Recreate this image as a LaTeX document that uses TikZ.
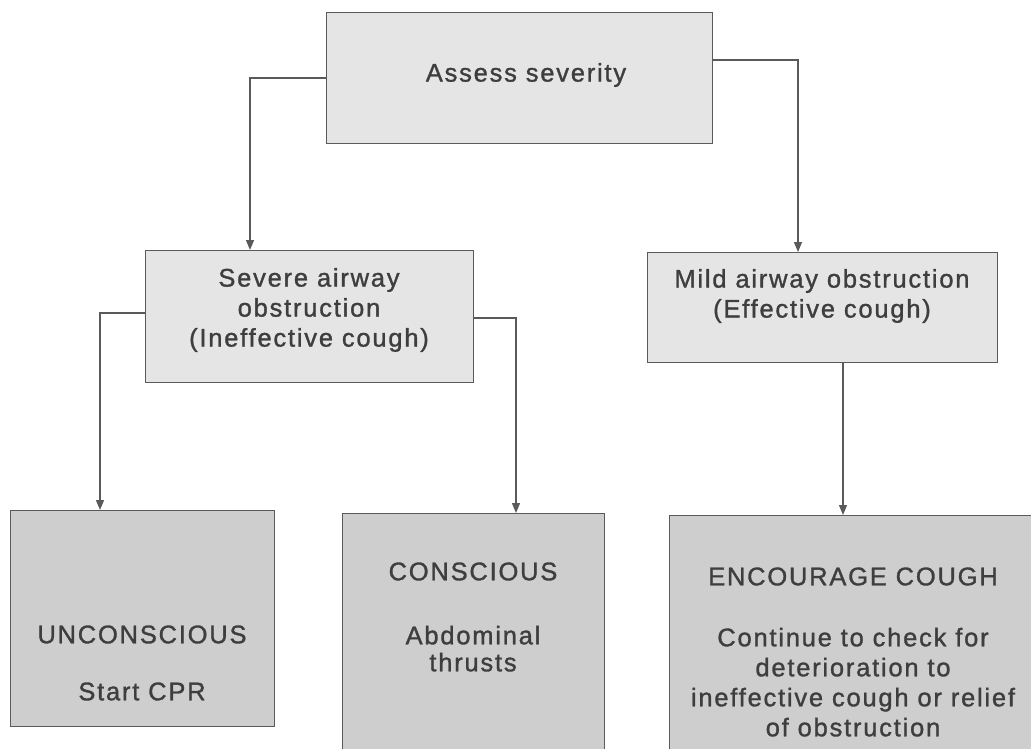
\documentclass[tikz,border=0pt]{standalone}
\usepackage{fontspec}
\setmainfont{Liberation Sans}[LetterSpace=7,FakeBold=1.2]
\usetikzlibrary{arrows.meta,positioning,calc}
\definecolor{boxlight}{RGB}{229,229,229}
\definecolor{boxdark}{RGB}{206,206,206}
\definecolor{edgegray}{RGB}{90,90,90}
\definecolor{txtgray}{RGB}{62,62,62}

\begin{document}
\begin{tikzpicture}[
  x=1pt,y=-1pt,
  toplevel/.style={draw=edgegray,fill=boxlight,line width=1.3pt,inner sep=0pt,anchor=north west},
  botlevel/.style={toplevel,fill=boxdark},
  boxtext/.style={text=txtgray,align=center,inner sep=0pt,font=\fontsize{25.5}{30}\selectfont},
  link/.style={draw=edgegray,line width=1.3pt,-{Triangle[length=10pt,width=8pt]}},
]
  \useasboundingbox (0,0) rectangle (1031,749);
  \clip (0,0) rectangle (1031,749);
  % Boxes
  \node[toplevel,minimum width=386pt,minimum height=131pt] (assess) at (326,12) {};
  \node[toplevel,minimum width=328pt,minimum height=132pt] (severe) at (145,250) {};
  \node[toplevel,minimum width=350pt,minimum height=110pt] (mild) at (647,252) {};
  \node[botlevel,minimum width=264pt,minimum height=216pt] (unc) at (10,510) {};
  \node[botlevel,minimum width=262pt,minimum height=245pt] (cons) at (342,513) {};
  \node[botlevel,minimum width=380pt,minimum height=280pt] (enc) at (669,515) {};
  % Texts
  \node[boxtext] (assesstext) at (526,75) {Assess severity};
  \node[boxtext] (severetext) at (309,310) {Severe airway\\obstruction\\(Ineffective cough)};
  \node[boxtext] (mildtext) at (822,296) {Mild airway obstruction\\(Effective cough)};
  \node[boxtext] (unctext) at (142,663) {UNCONSCIOUS\\[27pt]Start CPR};
  \node[boxtext] (constext) at (473,617) {CONSCIOUS\\[34pt]Abdominal\\[-3pt]thrusts};
  \node[boxtext] (enctext) at (853,652) {ENCOURAGE COUGH\\[31pt]Continue to check for\\deterioration to\\ineffective cough or relief\\of obstruction};
  % Connectors
  \draw[link] ($(assess.north west)+(0,66)$) -| ($(severe.north west)+(105,0)$);
  \draw[link] ($(assess.north east)+(0,48)$) -| ($(mild.north west)+(151,0)$);
  \draw[link] ($(severe.north west)+(0,63)$) -| ($(unc.north west)+(90,0)$);
  \draw[link] ($(severe.north east)+(0,68)$) -| ($(cons.north west)+(174,0)$);
  \draw[link] ($(mild.south west)+(196,0)$) -- ($(enc.north west)+(174,0)$);
\end{tikzpicture}
\end{document}
